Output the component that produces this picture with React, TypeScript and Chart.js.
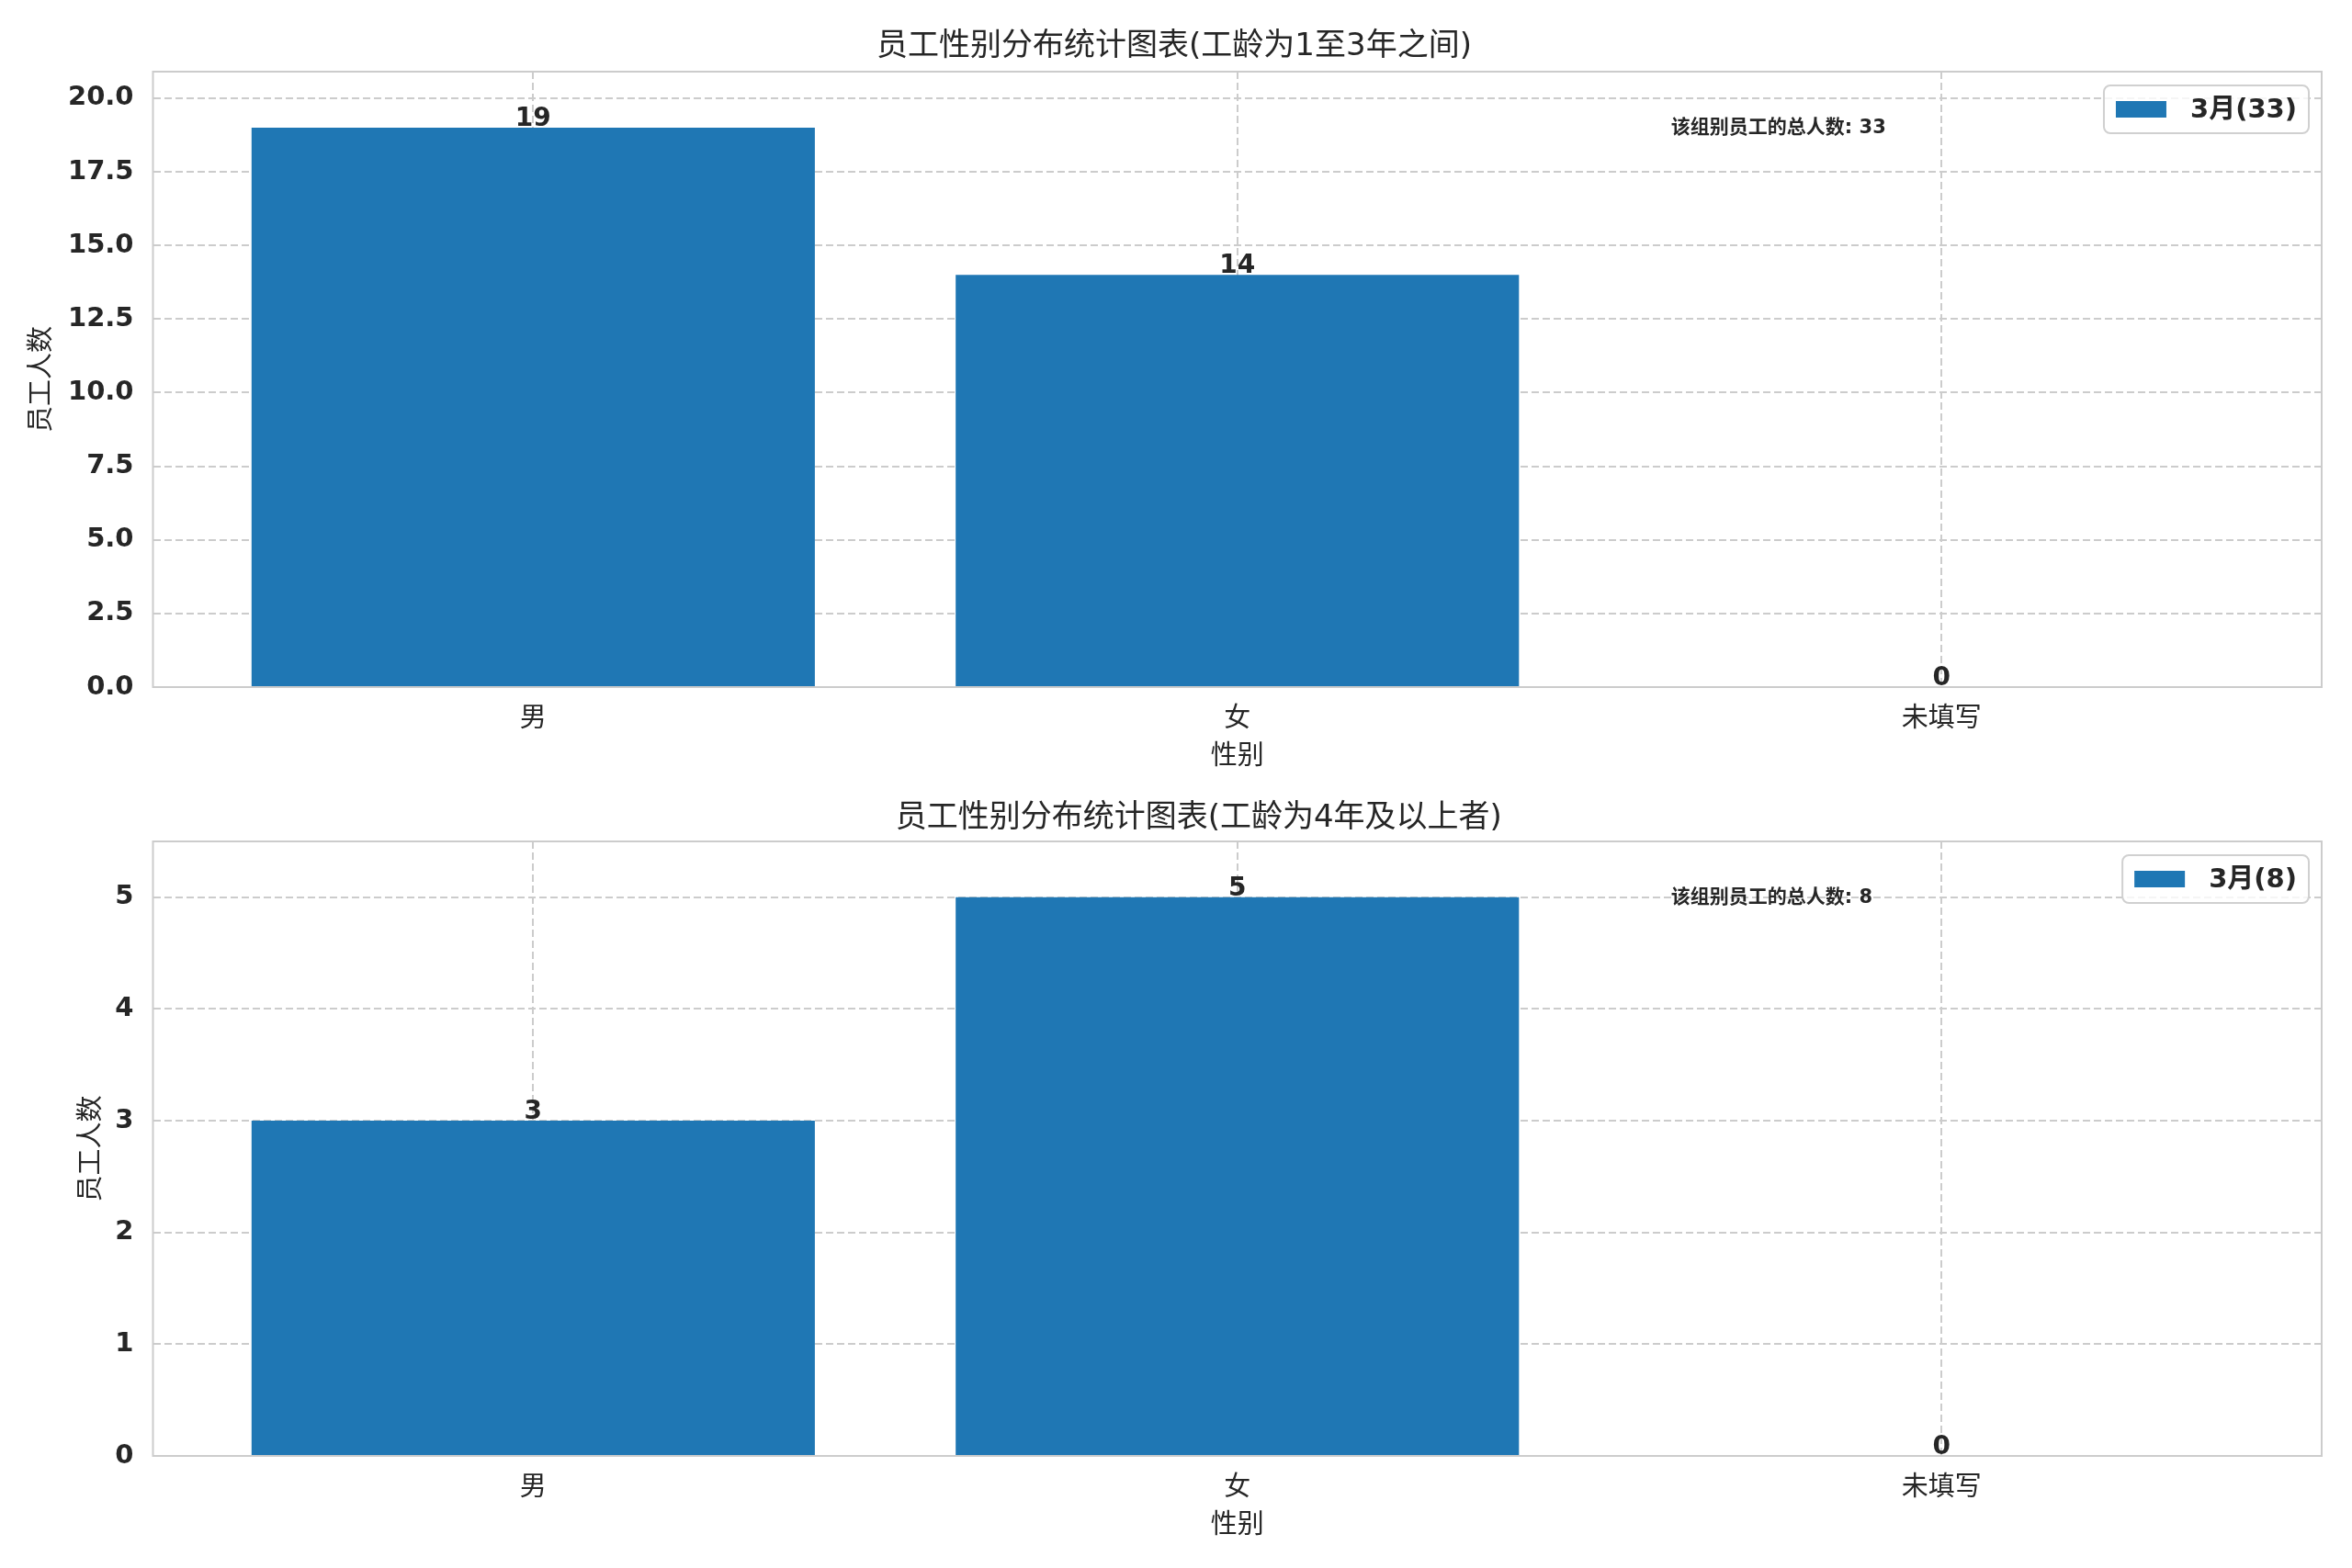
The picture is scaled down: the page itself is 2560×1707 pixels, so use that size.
import { useEffect, useRef } from "react";
import { Chart, registerables } from "chart.js";

Chart.register(...registerables);

// data
const categories = ["男", "女", "未填写"];
const catPositions = [0, 1, 2];
const countsShort = [19, 14, 0]; // 1-3 years
const countsLong = [3, 5, 0]; // 4+ years
const seriesName = "3月";
const titleShort = "员工性别分布统计图表(工龄为1至3年之间)";
const titleLong = "员工性别分布统计图表(工龄为4年及以上者)";
const noteLabel = "该组别员工的总人数";
const xTitle = "性别";
const yTitle = "员工人数";
const yTicksShort = { max: 20.9, step: 2.5, digits: 1 };
const yTicksLong = { max: 5.5, step: 1, digits: 0 };

const FONT = "'DejaVu Sans', 'Noto Sans CJK SC', sans-serif";
const INK = "#262626";
const GRID = "#cccccc";
const BLUE = "#1f77b4";

const sum = (a: number[]) => a.reduce((s, v) => s + v, 0);

// frame, value labels, note text and the boxed legend
const decorPlugin = {
  id: "decor",
  afterDraw(chart: any) {
    const { ctx, chartArea: ca } = chart;
    const ds = chart.data.datasets[0];
    const meta = chart.getDatasetMeta(0);
    ctx.save();

    ctx.strokeStyle = GRID;
    ctx.lineWidth = 2;
    ctx.strokeRect(ca.left, ca.top, ca.right - ca.left, ca.bottom - ca.top);

    ctx.fillStyle = INK;
    ctx.font = `bold 28px ${FONT}`;
    ctx.textAlign = "center";
    ctx.textBaseline = "alphabetic";
    meta.data.forEach((bar: any, i: number) => {
      ctx.fillText(String(ds.data[i].y), bar.x, bar.y - 2);
    });

    const total = sum(ds.data.map((d: any) => d.y));
    const w = ca.right - ca.left;
    const h = ca.bottom - ca.top;
    ctx.font = `bold 21px ${FONT}`;
    ctx.textAlign = "left";
    ctx.fillText(`${noteLabel}: ${total}`, ca.left + 0.7 * w, ca.top + 0.1 * h);

    // legend box
    ctx.font = `bold 29px ${FONT}`;
    const label = ds.label;
    const tw = ctx.measureText(label).width;
    const padX = 13, swW = 55, swH = 18, gap = 26, boxH = 52;
    const bw = padX + swW + gap + tw + padX;
    const bx = ca.right - 14 - bw;
    const by = ca.top + 15;
    ctx.beginPath();
    ctx.roundRect(bx, by, bw, boxH, 7);
    ctx.fillStyle = "rgba(255,255,255,0.8)";
    ctx.fill();
    ctx.strokeStyle = "#d0d0d0";
    ctx.lineWidth = 2;
    ctx.stroke();
    ctx.fillStyle = BLUE;
    ctx.fillRect(bx + padX, by + boxH / 2 - swH / 2, swW, swH);
    ctx.fillStyle = INK;
    ctx.textBaseline = "middle";
    ctx.fillText(label, bx + padX + swW + gap, by + boxH / 2 + 1);

    ctx.restore();
  },
};

type PanelProps = {
  counts: number[];
  title: string;
  yTicks: { max: number; step: number; digits: number };
  height: number;
  padLeft: number;
  padBottom: number;
  titlePad: { top: number; bottom: number };
};

const Panel = ({ counts, title, yTicks, height, padLeft, padBottom, titlePad }: PanelProps) => {
  const canva = useRef<HTMLCanvasElement | null>(null);

  useEffect(() => {
    if (!canva.current) return;

    const chart = new Chart(canva.current, {
      type: "bar",
      data: {
        datasets: [
          {
            label: `${seriesName}(${sum(counts)})`,
            data: catPositions.map((x, i) => ({ x, y: counts[i] })),
            backgroundColor: BLUE,
            barPercentage: 0.8,
            categoryPercentage: 1,
          },
        ],
      },
      options: {
        animation: false,
        responsive: true,
        maintainAspectRatio: false,
        layout: { padding: { left: padLeft, right: 33, top: 0, bottom: padBottom } },
        plugins: {
          legend: { display: false },
          tooltip: { enabled: false },
          title: {
            display: true,
            text: title,
            color: INK,
            font: { family: FONT, size: 34, weight: "normal" },
            padding: titlePad,
          },
        },
        scales: {
          x: {
            type: "linear",
            min: -0.54,
            max: 2.54,
            offset: false,
            afterFit: (s: any) => {
              s.height = 105;
            },
            ticks: {
              stepSize: 1,
              includeBounds: false,
              padding: 18,
              color: INK,
              font: { family: FONT, size: 29 },
              callback: (v: any) => categories[v] ?? "",
            },
            grid: { color: GRID, lineWidth: 2, drawTicks: false, offset: false },
            border: { display: false, dash: [8, 4] },
            title: {
              display: true,
              text: xTitle,
              color: INK,
              font: { family: FONT, size: 29 },
              padding: { top: 0, bottom: 11 },
            },
          },
          y: {
            min: 0,
            max: yTicks.max,
            afterFit: (s: any) => {
              s.width = 166.5 - padLeft;
            },
            ticks: {
              stepSize: yTicks.step,
              includeBounds: false,
              padding: 21,
              color: INK,
              font: { family: FONT, size: 29, weight: "bold" },
              callback: (v: any) => Number(v).toFixed(yTicks.digits),
            },
            grid: { color: GRID, lineWidth: 2, drawTicks: false },
            border: { display: false, dash: [8, 4] },
            title: {
              display: true,
              text: yTitle,
              color: INK,
              font: { family: FONT, size: 29 },
              padding: { top: 0, bottom: 0 },
            },
          },
        },
      },
      plugins: [decorPlugin],
    } as any);

    return () => {
      chart.destroy();
    };
  }, []);

  return (
    <div style={{ position: "relative", width: 2560, height }}>
      <canvas ref={canva} />
    </div>
  );
};

export default function App() {
  return (
    <div style={{ position: "absolute", left: 0, top: 0, width: 2560, height: 1707, background: "#fff" }}>
      <Panel
        counts={countsShort}
        title={titleShort}
        yTicks={yTicksShort}
        height={853}
        padLeft={29}
        padBottom={0}
        titlePad={{ top: 30.6, bottom: 6.6 }}
      />
      <Panel
        counts={countsLong}
        title={titleLong}
        yTicks={yTicksLong}
        height={854}
        padLeft={82.6}
        padBottom={17}
        titlePad={{ top: 17.6, bottom: 4.6 }}
      />
    </div>
  );
}
